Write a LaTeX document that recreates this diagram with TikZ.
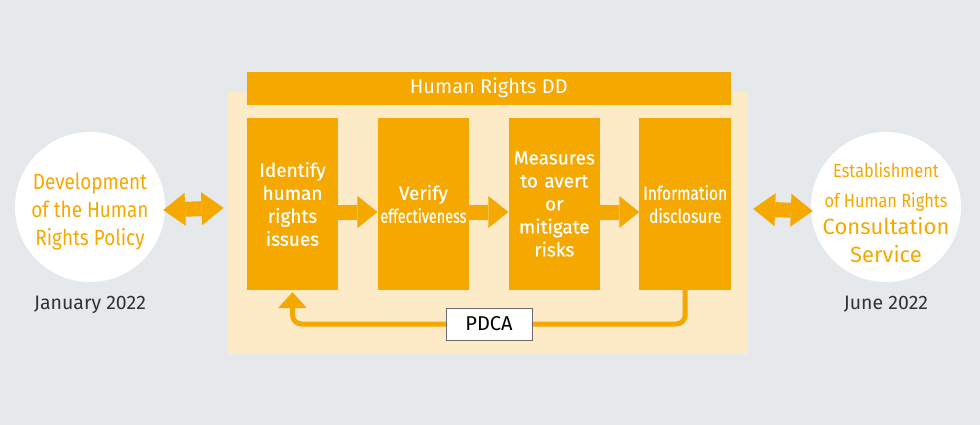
\documentclass[tikz,border=0pt]{standalone}
\usepackage{fontspec}
\setmainfont{Fira Sans}
\newfontfamily\condfont{Fira Sans}[FakeStretch=0.86]
\newfontfamily\boxfont{Fira Sans}[FakeBold=0.6]
\newfontfamily\boxcondfont{Fira Sans}[FakeStretch=0.82,FakeBold=0.6]
\newfontfamily\boxtightfont{Fira Sans}[FakeStretch=0.76,FakeBold=0.6]
\usetikzlibrary{positioning,arrows.meta}
\definecolor{ddorange}{HTML}{F5A800}
\definecolor{ddcream}{HTML}{FDEBC8}
\definecolor{ddgrey}{HTML}{E6E9EC}
\definecolor{ddtext}{HTML}{333333}
\definecolor{ddedge}{HTML}{6B6B6B}
\tikzset{stepbox/.style={fill=ddorange,text=white,minimum width=91.5pt,minimum height=172pt,text width=89pt,align=center,inner sep=0pt,font=\boxfont\fontsize{19}{23}\selectfont},
         header/.style={fill=ddorange,text=white,minimum width=484pt,minimum height=33pt,inner sep=0pt,font=\fontsize{20}{24}\selectfont},
         milestone/.style={circle,fill=white,minimum size=150pt,inner sep=0pt},
         circletext/.style={align=center,text=ddorange,inner sep=0pt},
         datelabel/.style={text=ddtext,inner sep=0pt,font=\fontsize{19.5}{22}\selectfont},
         pdcabox/.style={draw=ddedge,fill=white,minimum width=86pt,minimum height=32pt,inner sep=0pt,font=\fontsize{20}{24}\selectfont}
}
\tikzstyle{blockarrow} = [line width=15pt,ddorange,-{Triangle[length=20pt,width=32pt,line width=0pt]}]
\tikzstyle{twoway} = [line width=15pt,ddorange,{Triangle[length=22pt,width=33pt,line width=0pt]}-{Triangle[length=22pt,width=33pt,line width=0pt]}]
\tikzstyle{loopline} = [line width=5pt,ddorange,rounded corners=9pt,-{Triangle[length=16pt,width=29pt,line width=0pt]}]

\begin{document}
\begin{tikzpicture}[x=1pt,y=-1pt]

\fill[ddgrey] (0,0) rectangle (980,425);
\fill[ddcream] (228,92) rectangle (748,354);

\node[stepbox] (issues) at (292.5,204) {Identify\\human\\rights\\issues};
\node[stepbox,right=39pt of issues] (verify) {Verify\\{\boxtightfont effectiveness}};
\node[stepbox,right=39pt of verify] (measures) {Measures\\to avert\\or\\mitigate\\risks};
\node[stepbox,right=39pt of measures] (disclose) {{\boxcondfont Information}\\{\boxcondfont disclosure}};
\node[header,above right=13pt and 0pt of issues.north west] (dd) {Human Rights DD};

\draw[blockarrow] ([yshift=-8pt]issues.east)--([yshift=-8pt]verify.west);
\draw[blockarrow] ([yshift=-8pt]verify.east)--([yshift=-8pt]measures.west);
\draw[blockarrow] ([yshift=-8pt]measures.east)--([yshift=-8pt]disclose.west);

\coordinate (loopmid) at (489,324);
\draw[loopline] (disclose.south)|-(loopmid)-|([yshift=-2pt]issues.south);
\node[pdcabox] (pdca) at (loopmid) {PDCA};

\node[milestone] (policy) at (90,207) {};
\node[circletext,font=\condfont\fontsize{22}{28}\selectfont] (policytext) at ([yshift=-5pt]policy.center) {Development\\of the Human\\Rights Policy};
\node[milestone] (service) at (886,207) {};
\node[circletext,font=\fontsize{22}{28}\selectfont] (servicetext) at ([yshift=-6pt]service.center) {{\condfont\fontsize{19}{28}\selectfont Establishment}\\[2pt]{\condfont\fontsize{19}{28}\selectfont of Human Rights}\\[-1pt]Consultation\\Service};
\node[datelabel,below=14pt of policy] (policydate) {January 2022};
\node[datelabel,below=14pt of service] (servicedate) {June 2022};

\draw[twoway,shorten <=-2pt,shorten >=23pt] ([yshift=-3pt]policy.east)--([yshift=-3pt]issues.west);
\draw[twoway,shorten <=22pt,shorten >=-2pt] ([yshift=-4pt]disclose.east)--([yshift=-4pt]service.west);

\end{tikzpicture}
\end{document}
